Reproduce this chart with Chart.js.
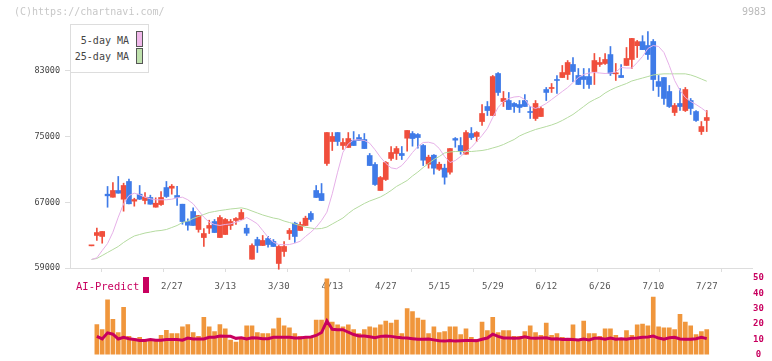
<!DOCTYPE html>
<html>
<head>
<meta charset="utf-8">
<script src="https://cdn.jsdelivr.net/npm/chart.js@4.4.1/dist/chart.umd.min.js"></script>
<style>
  html, body { margin: 0; padding: 0; background: #fff; }
  #wrap { position: relative; width: 772px; height: 361px; overflow: hidden; font-family: "DejaVu Sans Mono", monospace; }
  #wrap canvas { position: absolute; left: 0; top: 0; }
  .txt { position: absolute; white-space: nowrap; line-height: 1; }
  .sw { position: absolute; width: 5px; height: 14px; border: 1px solid #555; }
</style>
</head>
<body>
<div id="wrap">
  <canvas id="main" width="772" height="300"></canvas>
  <canvas id="sub" width="772" height="361"></canvas>

  <div class="txt" style="left:14px; top:7px; font-size:10px; color:#c8c8c8;">(C)https://chartnavi.com/</div>
  <div class="txt" style="left:742px; top:7px; font-size:10px; color:#bbb;">9983</div>

  <div style="position:absolute; left:70px; top:24px; width:77px; height:47px; border:1px solid #ddd; background:#fff;"></div>
  <div class="txt" style="left:70px; width:59px; text-align:right; top:36px; font-size:10px; color:#444;">5-day MA</div>
  <div class="sw" style="left:136px; top:31px; background:#f0b8ea;"></div>
  <div class="txt" style="left:70px; width:59px; text-align:right; top:52px; font-size:10px; color:#444;">25-day MA</div>
  <div class="sw" style="left:136px; top:48px; background:#bfe1ad;"></div>

  <div class="txt" style="left:76px; top:281px; font-size:10.5px; color:#c8005f;">AI-Predict</div>
  <div style="position:absolute; left:143px; top:277px; width:6px; height:16px; background:#c8005f;"></div>
</div>
<script>
// price data (one entry per session)
const opens = [61700,62960,62840,67990,67620,68440,67380,69540,67140,67990,
  67220,67590,66410,66730,68800,68720,67830,66770,64660,65880,
  63690,62710,63850,64660,62710,63080,64180,64790,64910,63850,
  60070,62470,61740,62590,62230,59550,61010,63200,64460,63570,
  64180,65640,68440,68070,71730,74410,75500,73920,73680,74530,
  74890,74650,72700,71610,68440,69780,72340,72950,72950,74810,
  75380,75260,73920,71640,72740,71030,71160,70670,74770,73920,
  72860,75380,75020,76840,78670,77570,82690,79280,79400,79040,
  78910,79400,78060,77210,77450,80740,80860,81960,82200,82570,
  83790,82450,82320,82320,82930,83790,83910,85000,82650,82450,
  83670,84400,86080,86570,86100,86590,81710,82200,80500,77940,
  79040,78180,79400,78060,75620,76970];
const highs = [61700,63850,63450,68930,69410,70150,69330,69820,67500,69050,
  68200,67870,67550,68320,69540,69170,68960,66770,64990,66330,
  65390,63810,64820,64910,65390,65030,64910,65150,66120,64300,
  61950,62750,62960,62870,62470,61740,62230,63810,64580,64580,
  65310,65880,69050,69290,75500,75500,75500,74770,75500,75620,
  75260,75380,72950,71850,70150,71970,73800,73800,73800,75750,
  75620,75380,74040,72740,72830,71890,71640,73550,74890,74890,
  75750,76110,75620,78910,79280,82450,82810,80500,80380,79160,
  79400,80130,78670,79400,78670,80990,81470,82450,83670,84270,
  84640,83300,83300,83300,85130,84640,85130,85980,83910,83790,
  85860,86960,86720,87300,87790,86830,82450,82200,81230,79040,
  80860,80990,79650,78180,76840,78180];
const lows = [61700,62350,62020,66400,67620,68110,65920,66820,66530,67340,
  66820,66770,66410,66610,67590,67990,66610,64330,63600,64180,
  63360,61620,63200,63320,62710,63080,63690,64300,64910,62960,
  60070,60890,61740,61530,61620,58850,60400,62470,62110,63570,
  64180,64660,67590,67220,71480,73310,73920,73430,73680,73920,
  74530,73550,71480,69050,68440,69660,72090,72210,72210,73230,
  73840,73590,71480,71160,70430,70880,69210,70430,73710,72860,
  72860,74650,74410,76360,77570,77570,80010,78670,78300,77940,
  77940,78670,77210,76970,77450,79400,80380,80260,82200,81960,
  81710,81350,80860,80860,81350,83550,83790,82450,81840,82200,
  83670,83300,84640,85600,84400,80620,79890,78910,78550,77570,
  78180,78060,77700,76840,75260,75620];
const closes = [61700,63320,63450,67790,68440,68110,69050,66820,67340,67380,
  67620,66770,66890,67590,67710,68960,67590,64660,64210,64180,
  65390,63200,64180,63320,65150,64910,64660,65030,65760,63240,
  61740,61740,62350,61860,61620,61620,61620,63570,62840,64300,
  65070,64910,67590,67220,75500,75020,74410,74290,74770,73920,
  74530,73550,71480,69170,70020,71850,73070,73550,72700,75750,
  74770,74890,72130,72500,71160,71640,70060,73550,74570,73230,
  75500,74890,75500,77820,78180,82320,80380,79650,78300,78670,
  78550,78670,77940,79040,78430,80380,80990,81840,82810,84030,
  82930,81350,81960,81350,84270,84030,84400,82690,82690,82200,
  84520,86960,86570,85600,85000,81960,81110,79650,78670,78790,
  78670,80740,78430,76970,76230,77330];
const ma5 = [60040,60240,61130,61980,63360,65190,66820,67830,68110,67920,
  67620,67430,67310,67310,67310,67380,67550,67620,67310,66820,
  66000,65190,64580,64300,64180,64300,64380,64580,64790,65150,
  64790,64380,63570,62750,62140,61860,61830,61860,62020,62260,
  62840,63360,63970,64790,65800,68040,70670,73100,74130,74610,
  74610,74530,74200,73400,72500,71760,71200,71080,71480,72220,
  73070,73800,74290,74320,74160,73560,72580,71850,72090,72580,
  73190,73680,74410,75140,75990,77330,78550,79280,79650,79830,
  79890,79520,78670,78430,78670,79040,79520,80010,80500,80980,
  81590,82200,82570,82750,82810,82750,82690,82750,82870,83420,
  83360,83360,84030,84760,85740,86100,85980,85250,83660,81840,
  80620,79770,79280,78910,78490,78000];
const ma25 = [60040,60160,60520,60890,61250,61620,62110,62530,62900,63080,
  63260,63380,63510,63570,63690,63930,64180,64540,64720,65030,
  65270,65520,65760,65880,66000,66090,66190,66250,66330,66190,
  65940,65700,65460,65270,65090,64970,64720,64540,64360,64180,
  63970,63870,63770,63810,63990,64360,64720,65090,65640,66130,
  66490,66860,67160,67400,67650,68010,68440,68930,69290,69660,
  70210,70690,71240,71730,72220,72580,73010,73130,73190,73190,
  73190,73190,73250,73310,73430,73620,73800,74040,74350,74650,
  75080,75380,75630,75870,76050,76230,76420,76660,76970,77330,
  77700,78180,78670,79160,79520,79830,80310,80680,80980,81230,
  81470,81780,81960,82140,82320,82510,82590,82650,82650,82650,
  82650,82650,82510,82290,82020,81750];
// lower panel
const volume = [null,19.6,16.4,35.8,23.1,14.4,30.8,11.9,10.6,11.3,
  8.8,9.8,9.4,12.5,15.8,13.8,13.8,18.1,19.6,14.4,
  11.9,24.4,18.1,15.0,19.6,16.9,9.4,8.1,11.3,18.8,
  18.8,14.4,13.8,13.8,16.9,23.8,18.8,17.5,13.8,11.9,
  11.3,11.3,22.5,22.5,49.4,21.3,19.4,18.1,19.4,16.3,
  13.8,16.3,18.1,17.5,19.4,21.9,20.6,22.5,13.8,30.0,
  28.1,23.8,22.5,13.8,18.1,14.4,15.0,18.1,18.1,13.1,
  16.9,11.3,10.0,21.3,15.6,24.4,14.4,15.6,15.6,11.9,
  11.9,15.0,18.8,14.4,12.5,20.6,12.5,13.8,11.3,10.0,
  19.4,10.0,21.9,13.8,13.8,11.9,16.9,16.9,12.5,10.0,
  15.6,12.5,19.4,20.0,18.8,37.5,18.1,17.5,17.5,16.3,
  26.3,21.3,18.8,13.1,15.0,16.3];
const aiPredict = [null,11.9,10.2,14.2,13.3,10.2,11.3,10.4,9.8,9.2,
  9.2,9.8,9.4,9.4,9.8,9.8,9.8,9.4,10.8,10.2,
  10.2,10.2,11.3,11.3,12.1,11.9,11.9,10.6,11.0,10.2,
  11.0,10.8,10.4,10.4,11.3,11.3,11.3,11.3,10.8,10.8,
  11.3,11.5,12.5,14.4,22.0,16.5,16.3,16.3,14.6,13.1,
  12.1,12.1,11.7,11.0,11.9,12.1,11.9,11.3,11.0,10.8,
  10.4,10.0,10.0,10.2,9.6,9.0,8.8,9.2,8.8,9.0,
  9.2,9.2,9.0,10.0,10.8,13.3,11.9,10.8,10.8,10.6,
  10.8,11.7,10.8,10.6,10.8,11.0,10.2,10.4,9.8,10.0,
  9.8,9.6,10.2,9.6,10.6,10.6,10.0,10.8,10.0,10.4,
  10.0,10.6,10.8,11.3,11.5,12.1,10.8,10.0,11.0,11.3,
  10.2,10.0,10.0,10.4,11.3,10.4];
// axis labels
const tickIdx = [15, 25, 35, 45, 55, 65, 75, 85, 95, 105, 115];
const tickLabels = ['2/27', '3/13', '3/30', '4/13', '4/27', '5/15', '5/29', '6/12', '6/26', '7/10', '7/27'];
const priceTicks = [59000, 67000, 75000, 83000];
const volTicks = [0, 10, 20, 30, 40, 50];

const mono = "'DejaVu Sans Mono', monospace";
const UP = '#f04e3c';
const DOWN = '#3f7be8';
const X_MIN = -4.02, X_MAX = 123.46;

const candleColors = closes.map((c, i) => c >= opens[i] ? UP : DOWN);
const pts = arr => arr.map((v, i) => ({ x: i, y: v }));

new Chart(document.getElementById('main'), {
    type: 'bar',
    data: {
        datasets: [
            { type: 'line', label: '5-day MA', data: pts(ma5), borderColor: '#e6b0e8', borderWidth: 1,
              pointRadius: 0, tension: 0, order: 0 },
            { type: 'line', label: '25-day MA', data: pts(ma25), borderColor: '#b5dba0', borderWidth: 1,
              pointRadius: 0, tension: 0, order: 0 },
            { label: 'body', data: opens.map((o, i) => ({ x: i, y: [o, closes[i]] })),
              backgroundColor: candleColors, barThickness: 5, minBarLength: 1, grouped: false, order: 1 },
            { label: 'wick', data: lows.map((l, i) => ({ x: i, y: [l, highs[i]] })),
              backgroundColor: candleColors, barThickness: 1, grouped: false, order: 2, clip: 4 }
        ]
    },
    options: {
        responsive: false,
        animation: false,
        events: [],
        layout: { padding: { top: 24, right: 20, left: 0, bottom: 0 } },
        plugins: { legend: { display: false }, tooltip: { enabled: false } },
        scales: {
            x: {
                type: 'linear', position: 'bottom', min: X_MIN, max: X_MAX, offset: false, weight: 1,
                grid: { display: false, drawTicks: false, offset: false }, border: { display: false },
                afterBuildTicks: s => { s.ticks = tickIdx.map(v => ({ value: v })); },
                afterFit: s => { s.height = 28; },
                ticks: {
                    autoSkip: false, maxRotation: 0, padding: 9, color: '#555',
                    font: { family: mono, size: 9 },
                    callback: v => tickLabels[tickIdx.indexOf(v)]
                }
            },
            xt: {
                type: 'linear', position: 'bottom', min: 0, max: 11, offset: false, weight: 0,
                grid: { drawOnChartArea: false, tickLength: 4, color: '#ddd' },
                border: { color: '#ddd' },
                ticks: { display: false, stepSize: 1, autoSkip: false },
                afterFit: s => { s.height = 4; }
            },
            y: {
                type: 'linear', position: 'left', min: 59000, max: 88720,
                afterBuildTicks: s => { s.ticks = priceTicks.map(v => ({ value: v })); },
                afterFit: s => { s.width = 70; },
                grid: { drawOnChartArea: false, tickLength: 5, color: '#ddd' },
                border: { color: '#ddd' },
                ticks: { padding: 5, color: '#444', font: { family: mono, size: 8.5 }, callback: v => String(v) }
            }
        }
    }
});

new Chart(document.getElementById('sub'), {
    type: 'bar',
    data: {
        datasets: [
            { type: 'line', label: 'AI-Predict', data: pts(aiPredict), borderColor: '#c8005f', borderWidth: 3,
              pointRadius: 0, tension: 0, order: 0 },
            { label: 'volume', data: pts(volume), backgroundColor: '#f0963c', barThickness: 4, order: 1 }
        ]
    },
    options: {
        responsive: false,
        animation: false,
        events: [],
        layout: { padding: { top: 278, right: 0, left: 70, bottom: 3 } },
        plugins: { legend: { display: false }, tooltip: { enabled: false } },
        scales: {
            x: { type: 'linear', display: false, min: X_MIN, max: X_MAX, offset: false },
            y: {
                position: 'right', min: 0, max: 50,
                afterBuildTicks: s => { s.ticks = volTicks.map(v => ({ value: v })); },
                afterFit: s => { s.width = 20; },
                grid: { display: false, drawTicks: false }, border: { display: false },
                ticks: { crossAlign: 'center', padding: 1, color: '#c8005f',
                         font: { family: mono, size: 9, weight: 'bold' } }
            }
        }
    }
});
</script>
</body>
</html>
